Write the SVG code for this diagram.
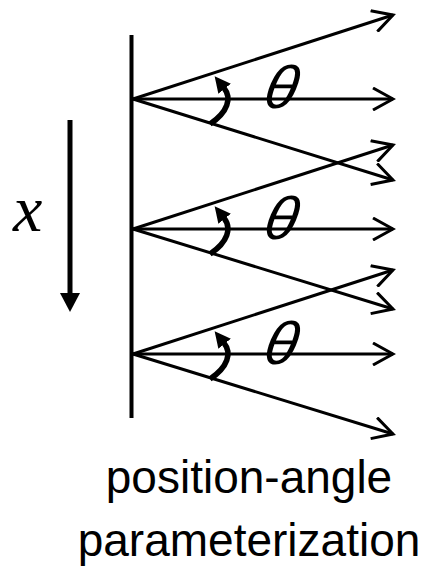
<svg xmlns="http://www.w3.org/2000/svg" width="423" height="570" viewBox="0 0 423 570">
  <style>
    .ray { stroke: #000; stroke-width: 3; fill: none; marker-end: url(#open); }
    .arc { stroke: #000; stroke-width: 5.5; fill: none; marker-end: url(#solid); }
    .theta { font-family: "Liberation Sans", Arial, sans-serif; font-style: italic; font-size: 60px; fill: #000; text-anchor: middle; }
    .caption { font-family: "Liberation Sans", Arial, sans-serif; font-size: 46px; fill: #000; text-anchor: middle; }
  </style>
  <defs>
    <marker id="open" viewBox="0 0 24 24" refX="21" refY="12" markerWidth="24" markerHeight="24" markerUnits="userSpaceOnUse" orient="auto">
      <path d="M 1 1 L 21 12 L 1 23" fill="none" stroke="#000" stroke-width="3"/>
    </marker>
    <marker id="solid" viewBox="0 0 17 16" refX="1" refY="8" markerWidth="17" markerHeight="16" markerUnits="userSpaceOnUse" orient="auto">
      <path d="M 0 0 L 16 8 L 0 16 Z" fill="#000"/>
    </marker>
  </defs>
  <rect width="423" height="570" fill="#fff"/>
  <g id="wall">
    <line x1="131.5" y1="35" x2="131.5" y2="418" stroke="#000" stroke-width="4"/>
  </g>
  <g id="x-axis">
    <line x1="70" y1="120" x2="70" y2="294" stroke="#000" stroke-width="5"/>
    <polygon points="60,293 80,293 70,312" fill="#000"/>
    <text x="13" y="231" font-family="'Liberation Serif', 'Times New Roman', serif" font-style="italic" font-size="66">x</text>
  </g>
  <g id="connectors">
    <line class="ray" x1="133" y1="99" x2="393" y2="15"/>
    <line class="ray" x1="133" y1="99" x2="393" y2="99"/>
    <line class="ray" x1="133" y1="99" x2="393" y2="180"/>
    <line class="ray" x1="133" y1="229" x2="393" y2="145"/>
    <line class="ray" x1="133" y1="229" x2="393" y2="229"/>
    <line class="ray" x1="133" y1="229" x2="393" y2="309"/>
    <line class="ray" x1="133" y1="354" x2="393" y2="270"/>
    <line class="ray" x1="133" y1="354" x2="393" y2="354"/>
    <line class="ray" x1="133" y1="354" x2="393" y2="434"/>
  </g>
  <g id="angle1">
    <path class="arc" d="M 210 124 C 228 112 232 98 224 88"/>
    <text class="theta" transform="translate(278 108) skewX(-11)">θ</text>
  </g>
  <g id="angle2">
    <path class="arc" d="M 210 254 C 228 242 232 228 224 218"/>
    <text class="theta" transform="translate(278 239) skewX(-11)">θ</text>
  </g>
  <g id="angle3">
    <path class="arc" d="M 210 379 C 228 367 232 353 224 343"/>
    <text class="theta" transform="translate(278 364) skewX(-11)">θ</text>
  </g>
  <g id="caption">
    <text class="caption" x="249" y="493">position-angle</text>
    <text class="caption" x="249" y="556">parameterization</text>
  </g>
</svg>
